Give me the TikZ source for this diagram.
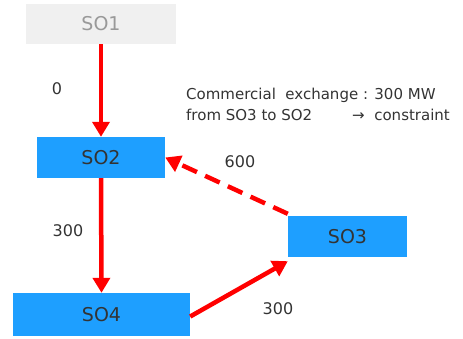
\documentclass[tikz,border=0pt]{standalone}
\usepackage{fontspec}
\setmainfont{DejaVu Sans}
\usetikzlibrary{arrows.meta}
\definecolor{soblue}{RGB}{30,159,255}
\definecolor{sogray}{RGB}{240,240,240}
\definecolor{sotext}{RGB}{51,51,51}
\definecolor{flowred}{RGB}{255,0,0}
\begin{document}
\begin{tikzpicture}[x=1pt,y=-1pt,
  sobox/.style={draw=none,fill=soblue,text=sotext,inner sep=0pt,font=\fontsize{19}{22}\selectfont},
  flow/.style={draw=flowred,line width=4.5pt,-{Triangle[width=17pt,length=15pt]}},
  lbl/.style={text=sotext,font=\fontsize{16}{19}\selectfont,inner sep=0pt}]
\useasboundingbox (0,0) rectangle (463,338);
% system operators
\node[sobox,fill=sogray,text=gray!80,minimum width=150pt,minimum height=40pt] (so1) at (101,24) {SO1};
\node[sobox,minimum width=128pt,minimum height=41pt] (so2) at (101,157.5) {SO2};
\node[sobox,minimum width=119pt,minimum height=41pt] (so3) at (347.5,236.5) {SO3};
\node[sobox,minimum width=177pt,minimum height=43pt] (so4) at (101.5,314.5) {SO4};
% flows
\draw[flow] (so1.south) -- (so2.north);
\draw[flow] (so2.south) -- (so4.north);
\draw[flow] ([yshift=-2pt]so4.east) -- ([yshift=-4pt]so3.south west);
\draw[flow,dash pattern=on 16pt off 9pt] ([yshift=2pt]so3.north west) -- (so2.east);
% flow values
\node[lbl] (l0) at (57,89) {0};
\node[lbl] (l1) at (68,231) {300};
\node[lbl] (l2) at (278,309) {300};
\node[lbl] (l3) at (240,162) {600};
% note
\node[lbl,anchor=north west,align=left,font=\fontsize{15}{21}\selectfont] (note) at (186,88)
  {Commercial\ \ exchange : 300 MW\\from SO3 to SO2\hspace{40pt}\textrightarrow\ \ constraint};
\end{tikzpicture}
\end{document}
